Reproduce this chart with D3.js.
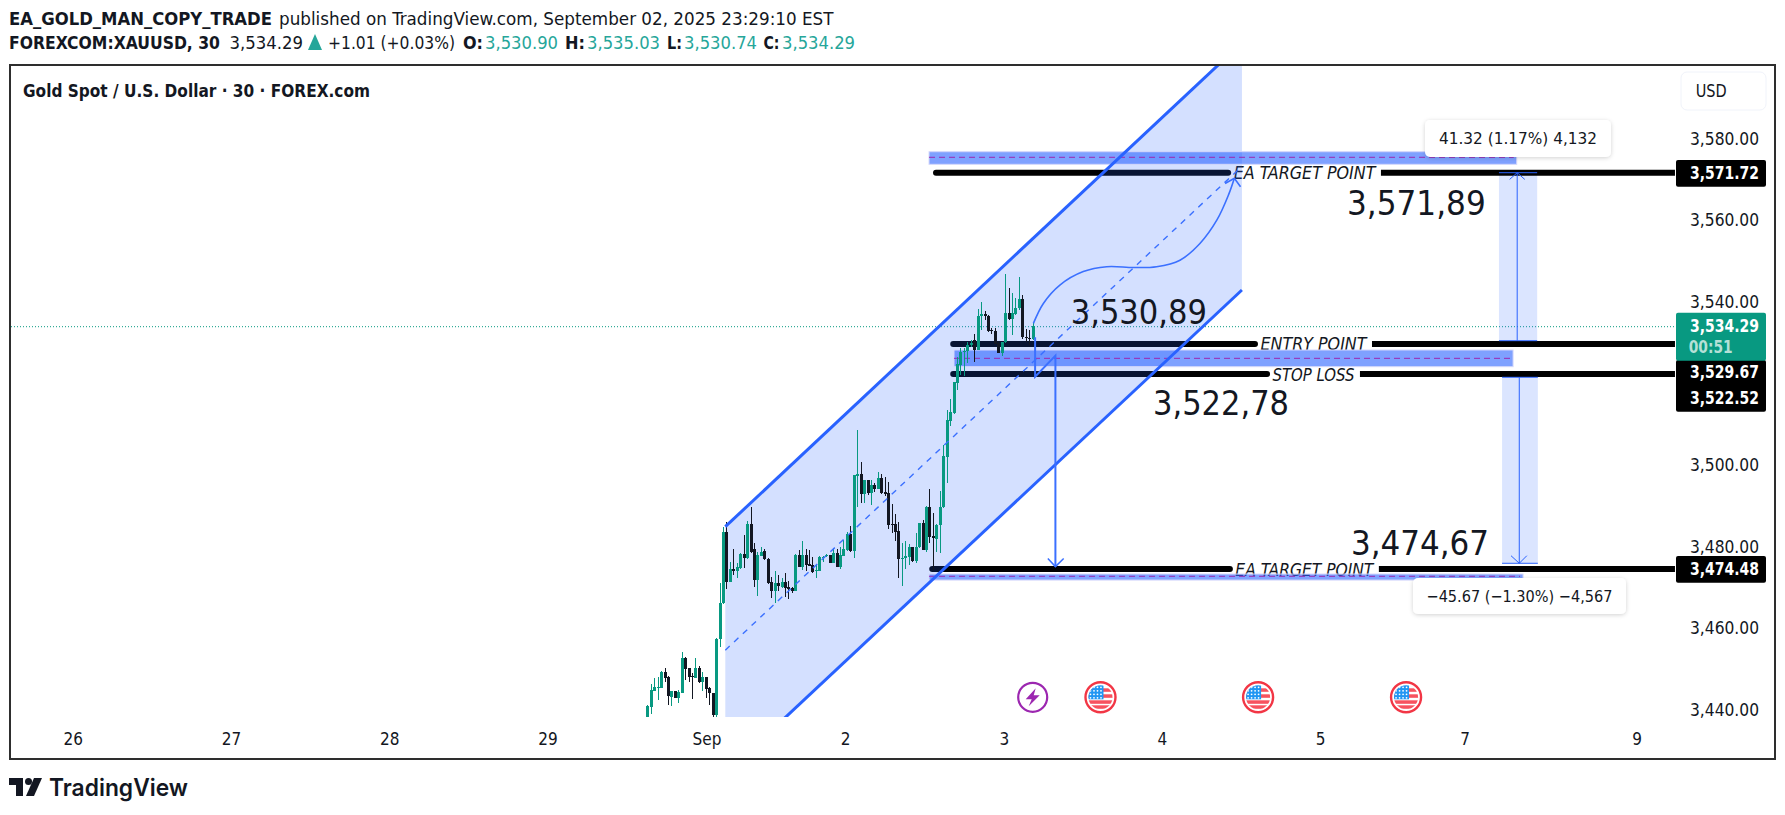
<!DOCTYPE html>
<html><head><meta charset="utf-8">
<script src="https://cdn.jsdelivr.net/npm/d3@7/dist/d3.min.js"></script>
<style>html,body{margin:0;padding:0;background:#fff;overflow:hidden}svg{display:block}text{font-family:"DejaVu Sans Condensed","DejaVu Sans",sans-serif;font-stretch:condensed;fill:#131722}</style>
</head><body><svg id="c" width="1785" height="815"></svg>
<script>
const opens=[3437.4,3440.7,3444.6,3445.2,3445.3,3449.1,3448.0,3443.1,3444.5,3442.9,
3444.1,3452.7,3450.1,3448.3,3447.8,3450.1,3446.6,3447.9,3445.2,3443.9,
3438.6,3457.2,3466.2,3483.5,3471.3,3474.3,3473.8,3474.6,3478.1,3477.1,
3485.4,3479.3,3471.7,3477.6,3478.9,3476.9,3471.2,3469.1,3470.9,3470.1,
3471.2,3469.9,3469.7,3469.0,3477.8,3475.0,3477.8,3475.6,3475.4,3473.8,
3473.8,3477.0,3477.5,3477.8,3476.0,3478.3,3475.0,3477.7,3479.1,3483.0,
3478.9,3497.3,3497.7,3492.7,3496.2,3493.1,3495.0,3494.1,3496.8,3493.2,
3493.0,3485.4,3485.4,3483.7,3476.9,3477.0,3477.3,3479.9,3476.4,3479.7,
3485.6,3479.1,3489.7,3482.5,3481.8,3485.1,3489.5,3501.9,3510.7,3512.7,
3520.1,3524.4,3527.5,3527.8,3529.2,3530.5,3528.1,3536.3,3536.9,3536.4,
3533.0,3532.7,3529.7,3527.4,3530.0,3537.1,3535.7,3536.9,3538.4,3540.6,
3531.2,3531.0,3530.7];
const highs=[3441.1,3446.2,3447.6,3448.0,3449.4,3450.1,3448.2,3444.6,3444.5,3444.8,
3454.0,3452.9,3450.2,3448.8,3452.5,3450.7,3449.2,3448.0,3445.4,3444.0,
3457.4,3471.1,3484.6,3485.9,3476.2,3479.3,3475.8,3478.3,3482.7,3486.2,
3489.5,3480.7,3478.7,3479.7,3479.2,3477.0,3472.5,3473.8,3472.9,3472.1,
3473.4,3471.5,3470.1,3478.0,3479.1,3481.3,3479.3,3479.1,3477.4,3475.4,
3477.6,3477.6,3478.0,3477.9,3479.5,3479.3,3479.9,3481.4,3483.6,3484.9,
3497.5,3508.5,3500.6,3496.3,3496.3,3496.2,3495.4,3498.1,3497.7,3497.0,
3495.7,3490.3,3488.0,3486.0,3480.7,3481.3,3480.5,3479.9,3483.3,3485.6,
3486.4,3489.9,3494.0,3488.1,3485.4,3493.5,3504.8,3513.4,3516.2,3520.3,
3526.3,3528.5,3528.5,3530.1,3530.5,3532.0,3538.1,3539.8,3537.6,3536.7,
3533.6,3533.4,3530.4,3530.0,3546.7,3543.2,3542.1,3540.8,3545.9,3541.6,
3533.2,3533.0,3534.8];
const lows=[3436.6,3438.9,3444.4,3442.3,3445.2,3446.6,3441.1,3440.8,3442.7,3441.6,
3443.9,3447.2,3446.6,3442.5,3447.6,3446.5,3444.4,3442.7,3441.1,3437.5,
3438.0,3455.4,3465.8,3469.5,3471.2,3473.0,3472.1,3474.5,3474.6,3476.9,
3478.3,3470.1,3467.9,3477.5,3476.6,3470.7,3467.4,3466.2,3468.9,3469.7,
3467.6,3467.1,3468.6,3468.9,3475.0,3474.2,3473.8,3475.2,3473.5,3472.1,
3473.8,3476.2,3477.4,3475.8,3476.0,3474.8,3474.3,3477.7,3478.9,3478.7,
3477.0,3489.5,3490.7,3490.5,3492.5,3490.1,3493.4,3493.9,3492.8,3492.3,
3484.1,3483.3,3481.3,3472.3,3470.3,3474.3,3475.4,3476.2,3475.8,3479.5,
3479.1,3478.7,3480.7,3474.2,3478.7,3478.3,3489.3,3495.6,3509.5,3512.4,
3518.3,3522.0,3521.7,3524.8,3528.9,3525.2,3528.1,3533.0,3535.4,3532.6,
3532.0,3529.5,3527.4,3526.5,3529.7,3535.4,3531.8,3536.6,3537.9,3530.9,
3530.1,3529.3,3530.5];
const closes=[3440.8,3444.8,3445.4,3445.6,3449.2,3447.8,3443.4,3444.5,3442.9,3444.2,
3452.5,3449.9,3448.0,3448.1,3450.1,3446.6,3447.9,3445.1,3443.9,3438.6,
3457.3,3466.2,3483.5,3471.3,3474.3,3473.8,3474.8,3478.1,3477.1,3485.4,
3478.7,3471.7,3477.8,3478.7,3476.8,3470.9,3469.1,3470.9,3470.2,3471.2,
3469.8,3469.6,3468.9,3477.8,3475.0,3477.8,3475.4,3475.2,3473.7,3474.2,
3477.3,3477.4,3477.8,3476.0,3478.3,3475.0,3477.8,3479.3,3483.0,3478.9,
3497.4,3497.7,3492.7,3496.2,3493.1,3495.0,3493.9,3496.6,3493.1,3492.7,
3485.2,3485.2,3483.5,3476.8,3477.2,3477.6,3479.9,3476.4,3479.9,3485.6,
3479.1,3489.7,3482.3,3481.9,3485.2,3489.5,3502.1,3510.9,3512.8,3520.2,
3524.6,3527.5,3527.9,3529.3,3529.7,3528.1,3536.4,3536.9,3536.4,3532.8,
3532.7,3529.6,3527.4,3530.0,3537.1,3535.7,3537.1,3538.5,3540.6,3531.2,
3531.0,3530.9,3534.0];
const priceTicks=[3580,3560,3540,3500,3480,3460,3440];
const timeTickBars=[-167,-121,-75,-29,17.2,57.5,103.6,149.5,195.5,237.5,287.5];
const timeTickLabels=["26","27","28","29","Sep","2","3","4","5","7","9"];
const levelPrices=[3571.54,3529.56,3522.2,3474.41];
const levelStart=[83.9,88.9,88.9,82.8];
const levelGapA=[168.8,176.6,180.1,169.3];
const levelGapB=[213.2,210.6,207.1,212.6];
const levelNames=["EA TARGET POINT","ENTRY POINT","STOP LOSS","EA TARGET POINT"];
const levelEnd=298.65;
const lastPriceDrawn=3533.8;
const zoneTop=[3576.69,3528.09,3473.18], zoneBottom=[3573.6,3524.0,3471.7], zoneMid=[3575.32,3526.05,3472.62];
const zoneStart=[81.87,89.13,81.87], zoneEnd=[252.66,251.6,254.5];
const channelBars=[22.67,172.8], channelUpper=[3484.78,3603.38], channelLower=[3424.26,3542.8];
const curveBars=[112.2,115.1,119.9,126.7,133.5,141.3,148.0,154.8,160.6,165.5,168.9,170.6];
const curvePrices=[3534.6,3539.5,3544.0,3547.3,3548.5,3548.3,3548.5,3550.1,3554.2,3559.9,3566.1,3570.2];
const curveHeadBars=[167.9,170.6,172.4], curveHeadPrices=[3568.9,3570.2,3568.1];
const zigBars=[112.7,112.7,118.6,118.6], zigPrices=[3531.2,3521.55,3526.7,3475.0];
const zigHeadBars=[116.4,118.6,121.0], zigHeadPrices=[3477.0,3475.0,3477.0];
const measureBarsA=[247.5,248.4], measureBarsB=[258.6,258.8], measureMid=[252.8,253.4];
const measureFrom=[3530.37,3521.4], measureTo=[3571.54,3475.81];
const measureHeadA=[250.6,251], measureHeadB=[255.0,255.6], measureHeadP=[3569.9,3477.67];
const measureLabels=["41.32 (1.17%) 4,132","\u221245.67 (\u22121.30%) \u22124,567"];
const eventBars=[112,131.7,177.5,220.5];
const eventKinds=["bolt","flag","flag","flag"];
const bigLabels=["3,571,89","3,530,89","3,522,78","3,474,67"];

const svg=d3.select("#c");
const x=d3.scaleLinear().domain([0,112]).range([647.3,1032.7]);
const y=d3.scaleLinear().domain([3580,3440]).range([138.2,709.4]);
const BLUE="#2962ff";
const txt=(g,s,px,py,size,o={})=>{const t=g.append("text").attr("x",px).attr("y",py).attr("font-size",size).attr("dominant-baseline","central").text(s);
 if(o.len){t.attr("textLength",o.len).attr("lengthAdjust","spacingAndGlyphs");}
 if(o.w)t.attr("font-weight",o.w); if(o.fill)t.style("fill",o.fill); if(o.anchor)t.attr("text-anchor",o.anchor); if(o.style)t.attr("font-style",o.style); if(o.family)t.style("font-family",o.family); return t;};

const hd=svg.append("g");
txt(hd,"EA_GOLD_MAN_COPY_TRADE",9,19,17,{w:700,len:263});
txt(hd,"published on TradingView.com, September 02, 2025 23:29:10 EST",279,19,17,{len:554.5});
txt(hd,"FOREXCOM:XAUUSD, 30",9,43.3,17,{w:700,len:211});
txt(hd,"3,534.29",229.6,43.3,17,{len:73.4});
hd.append("path").attr("d","M308 50L322 50L315 34Z").attr("fill","#26a69a");
txt(hd,"+1.01 (+0.03%)",328,43.3,17,{len:127});
const G="#26a69a";
[["O:",463,20],["H:",565,20],["L:",667,15],["C:",763.5,16]].forEach(a=>txt(hd,a[0],a[1],43.3,17,{w:700,len:a[2]}));
[["3,530.90",485],["3,535.03",587],["3,530.74",684],["3,534.29",782]].forEach(a=>txt(hd,a[0],a[1],43.3,17,{fill:G,len:73}));

svg.append("rect").attr("x",10).attr("y",65).attr("width",1765).attr("height",694).attr("fill","#fff").attr("stroke","#2e2e2e").attr("stroke-width",2);
svg.append("clipPath").attr("id","plot").append("rect").attr("x",11).attr("y",66).attr("width",1665).attr("height",651);
txt(svg,"Gold Spot / U.S. Dollar \u00b7 30 \u00b7 FOREX.com",23,90.7,17,{w:700,len:347});

const plot=svg.append("g").attr("clip-path","url(#plot)");
plot.append("line").attr("x1",11).attr("x2",1676).attr("y1",y(lastPriceDrawn)).attr("y2",y(lastPriceDrawn)).attr("stroke","#089981").attr("stroke-dasharray","1 2");
measureBarsA.forEach((a,i)=>{
 const t=Math.min(y(measureFrom[i]),y(measureTo[i])),b=Math.max(y(measureFrom[i]),y(measureTo[i]));
 plot.append("rect").attr("x",x(a)).attr("width",x(measureBarsB[i])-x(a)).attr("y",t).attr("height",b-t).attr("fill",BLUE).attr("fill-opacity",.17);
});
levelPrices.forEach((p,i)=>{
 plot.append("line").attr("x1",x(levelStart[i])).attr("x2",x(levelGapA[i])).attr("y1",y(p)).attr("y2",y(p)).attr("stroke","#000").attr("stroke-width",6).attr("stroke-linecap","round");
 plot.append("line").attr("x1",x(levelGapB[i])).attr("x2",x(levelEnd)).attr("y1",y(p)).attr("y2",y(p)).attr("stroke","#000").attr("stroke-width",6);
 txt(plot,levelNames[i],(x(levelGapA[i])+x(levelGapB[i]))/2,y(p)+.5,17.5,{style:"italic",anchor:"middle",len:x(levelGapB[i])-x(levelGapA[i])-11});
});
const ca=d3.area().x((d,i)=>x(channelBars[i])).y0((d,i)=>y(channelLower[i])).y1((d,i)=>y(channelUpper[i]));
plot.append("path").attr("d",ca([0,1])).attr("fill",BLUE).attr("fill-opacity",.2);
zoneTop.forEach((t,i)=>{
 plot.append("rect").attr("x",x(zoneStart[i])).attr("width",x(zoneEnd[i])-x(zoneStart[i])).attr("y",y(t)).attr("height",y(zoneBottom[i])-y(t)).attr("fill",BLUE).attr("fill-opacity",.6).attr("stroke","#d6d8fb").attr("stroke-width",1);
 plot.append("line").attr("x1",x(zoneStart[i])).attr("x2",x(zoneEnd[i])-3).attr("y1",y(zoneMid[i])).attr("y2",y(zoneMid[i])).attr("stroke","#9c27b0").attr("stroke-dasharray","6 4");
});
const bars=d3.range(opens.length);
const col=i=>closes[i]>=opens[i]?"#089981":"#131722";
const cg=plot.append("g").attr("shape-rendering","crispEdges");
cg.selectAll("line").data(bars).join("line").attr("x1",i=>Math.round(x(i))+.5).attr("x2",i=>Math.round(x(i))+.5).attr("y1",i=>y(highs[i])).attr("y2",i=>y(lows[i])).attr("stroke",col);
cg.selectAll("rect").data(bars).join("rect").attr("x",i=>Math.round(x(i))-1).attr("width",3).attr("y",i=>y(Math.max(opens[i],closes[i]))).attr("height",i=>Math.max(1,Math.abs(y(opens[i])-y(closes[i])))).attr("fill",col);
const ln=(xs,ps)=>d3.line().x((d,i)=>x(xs[i])).y((d,i)=>y(ps[i]))(xs);
plot.append("path").attr("d",ln(channelBars,channelUpper)).attr("fill","none").attr("stroke",BLUE).attr("stroke-width",3);
plot.append("path").attr("d",ln(channelBars,channelLower)).attr("fill","none").attr("stroke",BLUE).attr("stroke-width",3);
plot.append("path").attr("d",ln(channelBars,channelUpper.map((u,i)=>(u+channelLower[i])/2))).attr("fill","none").attr("stroke","#3b70ff").attr("stroke-width",1.4).attr("stroke-dasharray","6 6");
const cl=d3.line().x(d=>x(curveBars[d])).y(d=>y(curvePrices[d])).curve(d3.curveCatmullRom);
plot.append("path").attr("d",cl(d3.range(curveBars.length))).attr("fill","none").attr("stroke","#3b70ff").attr("stroke-width",1.6);
plot.append("path").attr("d",ln(curveHeadBars,curveHeadPrices)).attr("fill","none").attr("stroke","#3b70ff").attr("stroke-width",1.6);
plot.append("path").attr("d",ln(zigBars,zigPrices)).attr("fill","none").attr("stroke","#3b70ff").attr("stroke-width",2);
plot.append("path").attr("d",ln(zigHeadBars,zigHeadPrices)).attr("fill","none").attr("stroke","#3b70ff").attr("stroke-width",1.5);
measureBarsA.forEach((a,i)=>{
 plot.append("line").attr("x1",x(a)).attr("x2",x(measureBarsB[i])).attr("y1",y(measureTo[i])).attr("y2",y(measureTo[i])).attr("stroke",BLUE);
 plot.append("line").attr("x1",x(a)).attr("x2",x(measureBarsB[i])).attr("y1",y(measureFrom[i])).attr("y2",y(measureFrom[i])).attr("stroke",BLUE);
 plot.append("line").attr("x1",x(measureMid[i])).attr("x2",x(measureMid[i])).attr("y1",y(measureFrom[i])).attr("y2",y(measureTo[i])).attr("stroke",BLUE);
 plot.append("path").attr("d",ln([measureHeadA[i],measureMid[i],measureHeadB[i]],[measureHeadP[i],measureTo[i],measureHeadP[i]])).attr("fill","none").attr("stroke",BLUE);
});
const bigX=[1347,1070.7,1153,1351],bigY=[203,311.5,403,542.5],bigW=[138.7,136.3,136,138];
bigLabels.forEach((s,i)=>txt(svg,s,bigX[i],bigY[i],34,{len:bigW[i]}));
svg.append("filter").attr("id","sh").attr("x","-10%").attr("y","-30%").attr("width","120%").attr("height","170%").append("feDropShadow").attr("dx",0).attr("dy",1).attr("stdDeviation",2).attr("flood-color","#000").attr("flood-opacity",.18);
[[1425,120,186,37],[1413,578,213,36]].forEach((b,i)=>{
 svg.append("rect").attr("x",b[0]).attr("y",b[1]).attr("width",b[2]).attr("height",b[3]).attr("rx",5).attr("fill","#fff").attr("filter","url(#sh)");
 txt(svg,measureLabels[i],b[0]+b[2]/2,b[1]+b[3]/2,16.5,{anchor:"middle",len:i?186:158});
});
eventBars.forEach((b,i)=>{
 const g=svg.append("g").attr("transform",`translate(${x(b)},697.3)`);
 if(eventKinds[i]==="bolt"){
  g.append("circle").attr("r",14.5).attr("fill","#fff").attr("stroke","#9c27b0").attr("stroke-width",2.2);
  g.append("path").attr("d","M3 -9L-7 2L-1 2L-4 9L7 -2L1 -2Z").attr("fill","#9c27b0");
 } else {
  const id="fl"+i;
  g.append("clipPath").attr("id",id).append("circle").attr("r",12);
  const f=g.append("g").attr("clip-path",`url(#${id})`);
  f.append("rect").attr("x",-13).attr("y",-13).attr("width",26).attr("height",26).attr("fill","#fff");
  [-9,-3,3,8].forEach(v=>f.append("rect").attr("x",-13).attr("y",v).attr("width",26).attr("height",3.5).attr("fill","#f7525f"));
  f.append("rect").attr("x",-13).attr("y",-13).attr("width",16).attr("height",15).attr("fill","#2196f3");
  d3.range(-10,3,3.5).forEach(a=>d3.range(-10,2,3.5).forEach(c=>f.append("circle").attr("cx",a).attr("cy",c).attr("r",.9).attr("fill","#fff")));
  g.append("circle").attr("r",15).attr("fill","none").attr("stroke","#f23645").attr("stroke-width",2.4);
 }
});
const FF='"DejaVu Sans Condensed","DejaVu Sans",sans-serif';
const ya=d3.axisRight(y).tickValues(priceTicks).tickFormat(d3.format(",.2f")).tickSize(0).tickPadding(0);
const ag=svg.append("g").attr("transform","translate(1690,0)").call(ya);
ag.select(".domain").remove();
ag.selectAll("text").attr("dy",null).attr("dominant-baseline","central").attr("font-size",17).attr("textLength",69).attr("lengthAdjust","spacingAndGlyphs").style("font-family",FF);
const xa=d3.axisBottom(x).tickValues(timeTickBars).tickFormat((d,i)=>timeTickLabels[i]).tickSize(0).tickPadding(0);
const xg=svg.append("g").attr("transform","translate(0,739)").call(xa);
xg.select(".domain").remove();
xg.selectAll("text").attr("y",0).attr("dy",null).attr("dominant-baseline","central").attr("font-size",17).style("font-family",FF);
const tag=(t,h,f)=>svg.append("rect").attr("x",1676).attr("y",t).attr("width",90).attr("height",h).attr("rx",2).attr("fill",f);
tag(160,26.7,"#000");tag(360,51.7,"#000");tag(556,26.7,"#000");tag(312.7,48,"#089981");
[["3,571.72",173],["3,534.29",325.7],["3,529.67",371.7],["3,522.52",397.7],["3,474.48",569]].forEach(a=>txt(svg,a[0],1690,a[1],17,{fill:"#fff",len:69,w:700}));
txt(svg,"00:51",1688.7,346.7,17,{fill:"#b5e0d7",len:44,w:700});
svg.append("rect").attr("x",1681).attr("y",72).attr("width",85).attr("height",38).attr("rx",6).attr("fill","#fff").attr("stroke","#f0f3fa").attr("stroke-width",1);
txt(svg,"USD",1695.7,90.7,17,{len:31});
svg.append("path").attr("d","M9 778H23V796H16V785H9Z").attr("fill","#131722");
svg.append("circle").attr("cx",28.5).attr("cy",781.5).attr("r",3.5).attr("fill","#131722");
svg.append("path").attr("d","M34 778H42L34 796H26Z").attr("fill","#131722");
txt(svg,"TradingView",49,787,24,{w:600,len:139,family:"Inter, sans-serif"});
</script></body></html>
